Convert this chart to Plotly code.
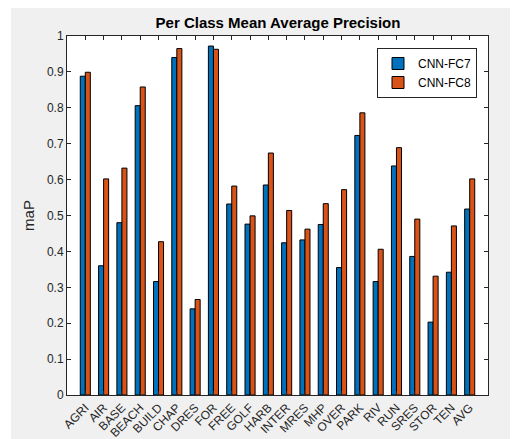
import plotly.graph_objects as go

categories = ["AGRI", "AIR", "BASE", "BEACH", "BUILD", "CHAP", "DRES", "FOR", "FREE", "GOLF",
              "HARB", "INTER", "MRES", "MHP", "OVER", "PARK", "RIV", "RUN", "SRES", "STOR", "TEN", "AVG"]
fc7 = [0.888, 0.360, 0.480, 0.806, 0.316, 0.940, 0.240, 0.972, 0.532, 0.476,
       0.585, 0.424, 0.432, 0.475, 0.355, 0.723, 0.316, 0.638, 0.386, 0.203, 0.342, 0.518]
fc8 = [0.899, 0.602, 0.632, 0.858, 0.427, 0.965, 0.266, 0.963, 0.582, 0.499,
       0.674, 0.514, 0.462, 0.533, 0.572, 0.786, 0.406, 0.689, 0.490, 0.331, 0.471, 0.602]
y_ticks = [0, 0.1, 0.2, 0.3, 0.4, 0.5, 0.6, 0.7, 0.8, 0.9, 1]
y_ticktext = ["0", "0.1", "0.2", "0.3", "0.4", "0.5", "0.6", "0.7", "0.8", "0.9", "1"]

xpos = list(range(1, len(categories) + 1))

fig = go.Figure()
fig.add_trace(go.Bar(x=xpos, y=fc7, name="CNN-FC7", marker=dict(color="#0072BD", line=dict(color="black", width=1))))
fig.add_trace(go.Bar(x=xpos, y=fc8, name="CNN-FC8", marker=dict(color="#D95319", line=dict(color="black", width=1))))

# page body has an 8px margin; figure placed at (8,8)
OFF = 8
W, H = 510, 431
L, R, T, B = 67 - OFF, 30, 36 - OFF, 44
pw, ph = W - L - R, H - T - B

def px_x(p):
    return (p - OFF - L) / pw

def px_y(p):
    return (H - B - (p - OFF)) / ph

font_family = "Liberation Sans, Arial"
axis_common = dict(showline=True, linecolor="#262626", linewidth=1, mirror="ticks",
                   ticks="inside", ticklen=4, tickcolor="#262626", showgrid=False, zeroline=False)

fig.update_layout(
    width=W, height=H,
    margin=dict(l=L, r=R, t=T, b=B),
    paper_bgcolor="#f0f0f0",
    plot_bgcolor="white",
    barmode="group",
    bargap=0.45,
    bargroupgap=0,
    title=dict(text="<b>Per Class Mean Average Precision</b>", x=px_x(278), xref="paper", xanchor="center",
               y=1 - (23 - OFF) / H, yanchor="middle",
               font=dict(family=font_family, size=15, color="black")),
    xaxis=dict(range=[0, 23], tickvals=xpos, ticktext=categories, tickangle=-45, automargin=False,
               tickfont=dict(family=font_family, size=12, color="#262626"), **axis_common),
    yaxis=dict(range=[0, 1], tickvals=y_ticks, ticktext=y_ticktext, automargin=False,
               tickfont=dict(family=font_family, size=12, color="#262626"),
               title=dict(text="maP", standoff=8, font=dict(family=font_family, size=15, color="#262626")),
               **axis_common),
    legend=dict(x=px_x(477), y=px_y(48), xanchor="right", yanchor="top",
                bgcolor="white", bordercolor="#262626", borderwidth=1,
                font=dict(family=font_family, size=12, color="black"),
                itemwidth=30, tracegroupgap=0),
    showlegend=True,
    shapes=[
        dict(type="rect", xref="paper", yref="paper", x0=px_x(0), x1=px_x(11), y0=px_y(H + OFF), y1=px_y(0),
             fillcolor="white", line=dict(width=0), layer="below"),
    ],
)

fig.write_html("out.html")
